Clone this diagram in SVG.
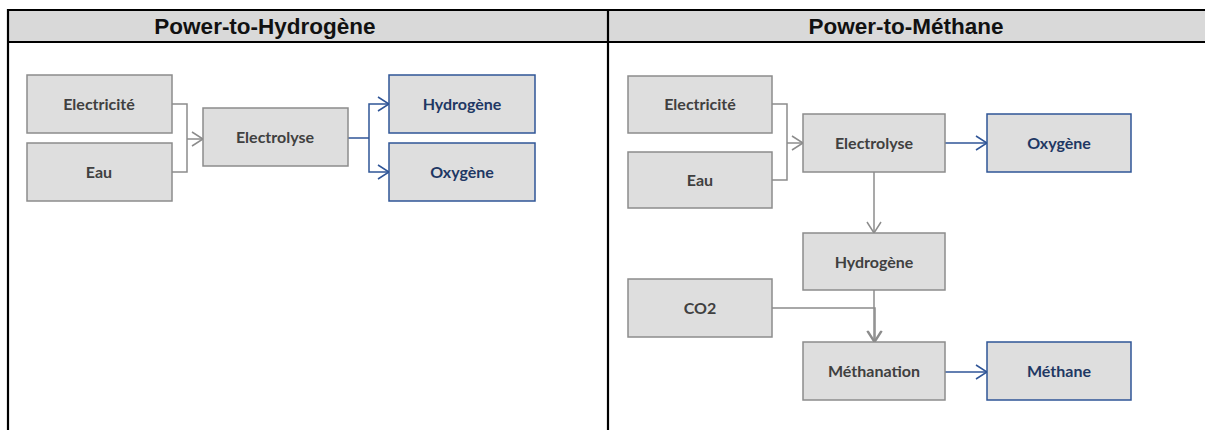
<svg xmlns="http://www.w3.org/2000/svg" width="1205" height="430" viewBox="0 0 1205 430">
<style>
.hdr{fill:#d9d9d9;stroke:none}
.bl{stroke:#000;stroke-width:2.2;fill:none}
.ht{font-family:"Liberation Sans",Arial,sans-serif;font-weight:bold;font-size:22.5px;fill:#111;text-anchor:middle}
.g rect{fill:#dedede;stroke:#8c8c8c;stroke-width:1.5}
.b rect{fill:#dedede;stroke:#2f5597;stroke-width:1.5}
.g text{font-family:Lato,"Open Sans",sans-serif;font-weight:bold;font-size:16px;fill:#404040;text-anchor:middle}
.b text{font-family:Lato,"Open Sans",sans-serif;font-weight:bold;font-size:16px;fill:#1f3864;text-anchor:middle}
.cg{stroke:#8c8c8c;stroke-width:1.5;fill:none}
.cb{stroke:#2f5597;stroke-width:1.5;fill:none}
</style>
<defs>
<marker id="ag" markerWidth="13" markerHeight="16" refX="12" refY="8" orient="auto" markerUnits="userSpaceOnUse"><path d="M1,1 L12,8 L1,15" fill="none" stroke="#8c8c8c" stroke-width="1.5"/></marker>
<marker id="ab" markerWidth="13" markerHeight="16" refX="12" refY="8" orient="auto" markerUnits="userSpaceOnUse"><path d="M1,1 L12,8 L1,15" fill="none" stroke="#2f5597" stroke-width="1.5"/></marker>
</defs>
<g id="frame">
<rect class="hdr" x="8" y="10" width="1200" height="32"/>
<line class="bl" x1="7" y1="10" x2="1210" y2="10"/>
<line class="bl" x1="7" y1="42" x2="1210" y2="42"/>
<line class="bl" x1="8" y1="9" x2="8" y2="430"/>
<line class="bl" x1="608" y1="9" x2="608" y2="430"/>
<text class="ht" x="265" y="34">Power-to-Hydrogène</text>
<text class="ht" x="906" y="34">Power-to-Méthane</text>
</g>
<g id="connectors">
<polyline class="cg" points="172,104 187,104 187,172 172,172"/>
<line class="cg" x1="187" y1="139" x2="203" y2="139" marker-end="url(#ag)"/>
<line class="cb" x1="348" y1="138" x2="369" y2="138" stroke-width="2"/>
<polyline class="cb" points="369,138 369,104 389,104" marker-end="url(#ab)"/>
<polyline class="cb" points="369,138 369,172 389,172" marker-end="url(#ab)"/>
<polyline class="cg" points="772,104 787,104 787,180 772,180"/>
<line class="cg" x1="787" y1="143" x2="803" y2="143" marker-end="url(#ag)"/>
<line class="cb" x1="945" y1="143" x2="987" y2="143" marker-end="url(#ab)"/>
<line class="cg" x1="874" y1="172" x2="874" y2="233" marker-end="url(#ag)"/>
<line class="cg" x1="874" y1="290" x2="874" y2="342" marker-end="url(#ag)"/>
<polyline class="cg" points="772,308 875,308 875,342" marker-end="url(#ag)"/>
<line class="cb" x1="945" y1="372" x2="987" y2="372" marker-end="url(#ab)"/>
</g>
<g id="n1" class="g"><rect x="27" y="75" width="145" height="58"/><text x="99" y="110">Electricité</text></g>
<g id="n2" class="g"><rect x="27" y="143" width="145" height="58"/><text x="99" y="178">Eau</text></g>
<g id="n3" class="g"><rect x="203" y="108" width="145" height="58"/><text x="275" y="143">Electrolyse</text></g>
<g id="n4" class="b"><rect x="389" y="75" width="146" height="58"/><text x="462" y="110">Hydrogène</text></g>
<g id="n5" class="b"><rect x="389" y="143" width="146" height="58"/><text x="462" y="178">Oxygène</text></g>
<g id="m1" class="g"><rect x="628" y="76" width="144" height="57"/><text x="700" y="110">Electricité</text></g>
<g id="m2" class="g"><rect x="628" y="152" width="144" height="56"/><text x="700" y="186">Eau</text></g>
<g id="m3" class="g"><rect x="803" y="114" width="142" height="58"/><text x="874" y="149">Electrolyse</text></g>
<g id="m4" class="b"><rect x="987" y="114" width="144" height="58"/><text x="1059" y="149">Oxygène</text></g>
<g id="m5" class="g"><rect x="803" y="233" width="142" height="57"/><text x="874" y="268">Hydrogène</text></g>
<g id="m6" class="g"><rect x="628" y="279" width="144" height="58"/><text x="700" y="314">CO2</text></g>
<g id="m7" class="g"><rect x="803" y="342" width="142" height="58"/><text x="874" y="377">Méthanation</text></g>
<g id="m8" class="b"><rect x="987" y="342" width="144" height="58"/><text x="1059" y="377">Méthane</text></g>
</svg>
